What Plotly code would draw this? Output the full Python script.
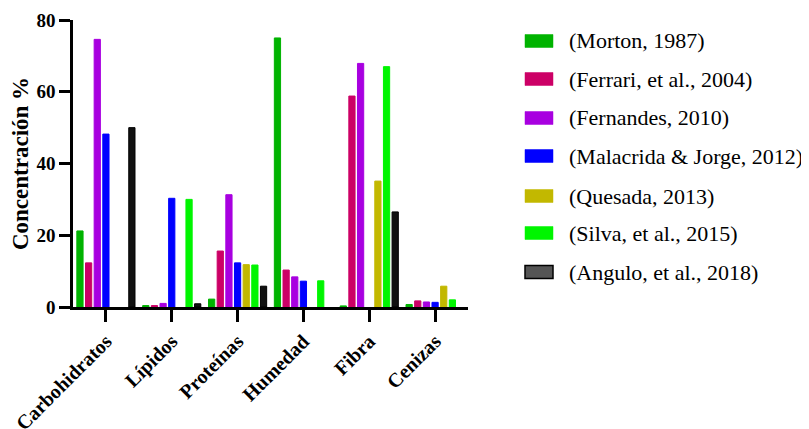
import plotly.graph_objects as go

categories = ["Carbohidratos", "Lípidos", "Proteínas", "Humedad", "Fibra", "Cenizas"]

series_names = [
    "(Morton, 1987)",
    "(Ferrari, et al., 2004)",
    "(Fernandes, 2010)",
    "(Malacrida & Jorge, 2012)",
    "(Quesada, 2013)",
    "(Silva, et al., 2015)",
    "(Angulo, et al., 2018)",
]

morton = [21.2, 0.4, 2.2, 75.0, 0.3, 0.7]
ferrari = [12.3, 0.4, 15.6, 10.3, 58.8, 1.7]
fernandes = [74.6, 1.0, 31.3, 8.4, 67.9, 1.4]
malacrida = [48.2, 30.3, 12.3, 7.2, None, 1.3]
quesada = [None, None, 11.8, None, 35.1, 5.8]
silva = [None, 30.0, 11.7, 7.3, 67.0, 2.0]
angulo = [50.0, 0.9, 5.8, None, 26.5, None]

series_values = [morton, ferrari, fernandes, malacrida, quesada, silva, angulo]
fill_colors = ["#00B300", "#CC0066", "#A800E0", "#0000FF", "#C2B800", "#00F500", "#111111"]
line_colors = ["#00B300", "#CC0066", "#A800E0", "#0000FF", "#C2B800", "#00F500", "#000000"]
legend_fill = ["#00B300", "#CC0066", "#A800E0", "#0000FF", "#C2B800", "#00F500", "#555555"]

W, H = 809, 429
OFF = 8  # page body margin offset
L, R, T, B = 73 - OFF, 341 + OFF, 20 - OFF, 122 + OFF
pw = W - L - R
ph = H - T - B

font_family = "Liberation Serif, Times New Roman, serif"

fig = go.Figure()
for name, vals, fc, lc in zip(series_names, series_values, fill_colors, line_colors):
    fig.add_trace(go.Bar(
        x=categories, y=vals, name=name,
        marker=dict(color=fc, line=dict(color=lc, width=1)),
        showlegend=False,
    ))

# custom legend (swatches + text) in paper coords; positions given in screen pixels
row_y = [41, 79, 118, 156, 196, 233, 272]
for i, (name, fc) in enumerate(zip(series_names, legend_fill)):
    cy = row_y[i] - OFF
    x0 = (525 - OFF - L) / pw
    x1 = (553 - OFF - L) / pw
    y0 = (H - B - (cy - 6.5)) / ph
    y1 = (H - B - (cy + 6.5)) / ph
    fig.add_shape(type="rect", xref="paper", yref="paper",
                  x0=x0, x1=x1, y0=y1, y1=y0,
                  fillcolor=fc, line=dict(color=line_colors[i], width=1.5 if i == 6 else 0.5))
    fig.add_annotation(xref="paper", yref="paper",
                       x=(567 - OFF - L) / pw, y=(H - B - cy) / ph,
                       text=name, showarrow=False, xanchor="left", yanchor="middle",
                       font=dict(family=font_family, size=22, color="#000000"))

fig.update_layout(
    width=W, height=H,
    margin=dict(l=L, r=R, t=T, b=B, autoexpand=False),
    paper_bgcolor="white", plot_bgcolor="white",
    barmode="group", bargap=0.08, bargroupgap=0.28,
    font=dict(family=font_family, color="#000000"),
)
fig.update_xaxes(
    automargin=False,
    showline=True, linecolor="#000000", linewidth=2.5,
    ticks="outside", ticklen=12, tickwidth=2.5, tickcolor="#000000",
    tickangle=-45, showgrid=False, zeroline=False,
    tickfont=dict(family=font_family, size=20, color="#000000", weight="bold"),
    range=[-0.5, 5.5],
)
fig.update_yaxes(
    automargin=False,
    range=[0, 80], tickvals=[0, 20, 40, 60, 80],
    showline=True, linecolor="#000000", linewidth=2.5,
    ticks="outside", ticklen=11, tickwidth=2.5, tickcolor="#000000",
    showgrid=False, zeroline=False,
    tickfont=dict(family=font_family, size=19, color="#000000", weight="bold"),
    title=dict(text="Concentración %", standoff=10,
               font=dict(family=font_family, size=23, color="#000000", weight="bold")),
)

fig.write_html("out.html")
